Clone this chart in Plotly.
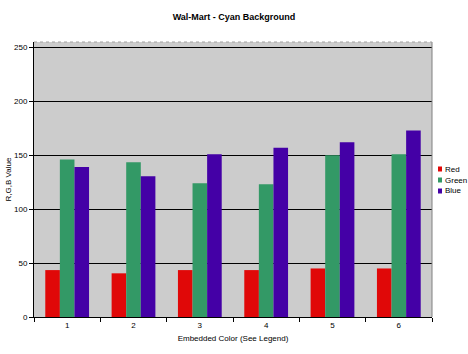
import plotly.graph_objects as go

categories = ["1", "2", "3", "4", "5", "6"]
red = [43.5, 40.5, 43.5, 43.5, 45, 45]
green = [146, 143.5, 124, 123, 150, 151]
blue = [139, 130.5, 151, 157, 162, 173]
yticks = [0, 50, 100, 150, 200, 250]
series_names = ["Red", "Green", "Blue"]

colors = {"Red": "#E00808", "Green": "#339966", "Blue": "#4400A6"}

fig = go.Figure()
for name, vals in zip(series_names, [red, green, blue]):
    fig.add_trace(go.Bar(x=categories, y=vals, name=name, showlegend=False,
                         marker=dict(color=colors[name], line=dict(width=0))))

fnt = "Liberation Sans, Arial, sans-serif"

# manual legend (plot-area right edge is close to the page edge)
W, L = 398, 34
H, B = 275, 37
shapes = [
    dict(type="line", xref="paper", yref="paper", x0=1, x1=1, y0=0, y1=1,
         line=dict(color="#808080", width=1)),
    dict(type="line", xref="paper", yref="paper", x0=0, x1=1, y0=1, y1=1,
         line=dict(color="#A0A0A0", width=1, dash="dot")),
]
annotations = []
for i, name in enumerate(series_names):
    yc = (317 - (169 + 11 * i)) / H
    shapes.append(dict(type="rect", xref="paper", yref="paper",
                       x0=(438 - L) / W, x1=(442 - L) / W,
                       y0=yc - 2.5 / H, y1=yc + 2.5 / H,
                       fillcolor=colors[name], line=dict(width=0)))
    annotations.append(dict(xref="paper", yref="paper", x=(443 - L) / W, y=yc,
                            xanchor="left", yanchor="middle", showarrow=False,
                            text=name, font=dict(family=fnt, size=8, color="black")))

fig.update_layout(
    width=468, height=354,
    margin=dict(l=34, r=36, t=42, b=37, autoexpand=False),
    paper_bgcolor="white", plot_bgcolor="#CCCCCC",
    barmode="group", bargap=0.34, bargroupgap=0,
    title=dict(text="<b>Wal-Mart - Cyan Background</b>", x=0.5, xanchor="center",
               y=1 - 17/354, yanchor="middle", font=dict(family=fnt, size=9, color="black")),
    font=dict(family=fnt, size=8, color="black"),
    xaxis=dict(showline=True, linecolor="black", linewidth=1, ticks="outside",
               tickson="boundaries", ticklen=4, tickcolor="black",
               title=dict(text="Embedded Color (See Legend)", font=dict(size=8), standoff=6),
               showgrid=False),
    yaxis=dict(range=[0, 255], tickvals=yticks, showline=True, linecolor="black",
               linewidth=1, ticks="outside", ticklen=4, tickcolor="black",
               gridcolor="black", gridwidth=1, zeroline=False,
               title=dict(text="R,G,B Value", font=dict(size=8), standoff=1)),
    shapes=shapes,
    annotations=annotations,
)
fig.write_html("out.html")
